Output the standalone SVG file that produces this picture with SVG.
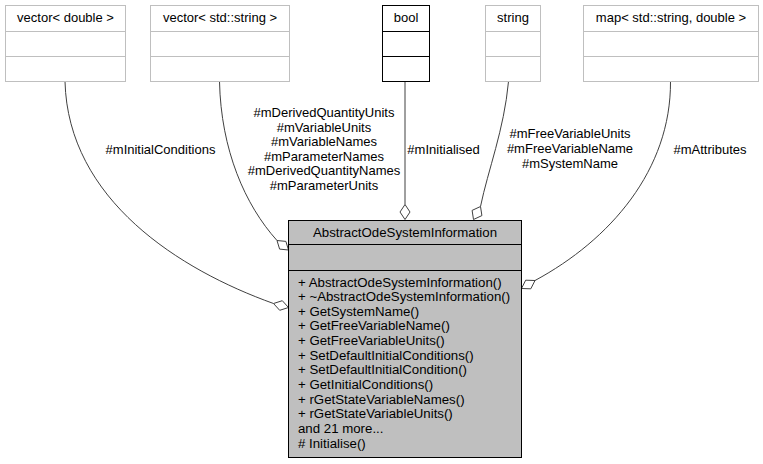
<svg xmlns="http://www.w3.org/2000/svg" width="763" height="464" viewBox="0 0 763 464">
<style>
text{font-family:"Liberation Sans",Arial,Helvetica,sans-serif;font-size:13px;fill:#000}
.c{text-anchor:middle}
.m{font-size:13.25px}
.ext{fill:#fff;stroke:#bfbfbf;stroke-width:1}
.extd{fill:none;stroke:#bfbfbf;stroke-width:1}
.blk{fill:#fff;stroke:#000;stroke-width:1}
.blkd{fill:none;stroke:#000;stroke-width:1}
.main{fill:#bfbfbf;stroke:#000;stroke-width:1}
.edge{fill:none;stroke:#404040;stroke-width:1}
.dia{fill:#fff;stroke:#404040;stroke-width:1}
</style>
<rect width="763" height="464" fill="#fff"/>
<g id="connectors">
<path class="edge" d="M65,81.5 C68,200 180,270 273.5,303.5"/>
<polygon class="dia" points="273.5,303.5 282.3,300.7 288.5,307.5 279.7,310.3"/>
<path class="edge" d="M219.5,81.5 C221,150 245,205 277,240.5"/>
<polygon class="dia" points="277,240.5 285.9,241.4 288.5,250 279.6,249.1"/>
<path class="edge" d="M405,81.5 L405,204.5"/>
<polygon class="dia" points="405,204.5 410,212 405,219.5 400,212"/>
<path class="edge" d="M508.5,81.5 C504,130 488,170 480.5,206.5"/>
<polygon class="dia" points="480.5,206.5 481.9,215.6 473.5,219.5 472.1,210.4"/>
<path class="edge" d="M670.5,81.5 C671,170 610,240 535,280.5"/>
<polygon class="dia" points="535,280.5 530.8,288.8 521.5,288.5 525.7,280.2"/>
<text class="c" x="160.5" y="153.5">#mInitialConditions</text>
<text class="c" x="324" y="117">#mDerivedQuantityUnits</text>
<text class="c" x="324" y="131.5">#mVariableUnits</text>
<text class="c" x="324" y="146">#mVariableNames</text>
<text class="c" x="324" y="160.5">#mParameterNames</text>
<text class="c" x="324" y="175">#mDerivedQuantityNames</text>
<text class="c" x="324" y="189.5">#mParameterUnits</text>
<text class="c" x="443.5" y="153.5">#mInitialised</text>
<text class="c" x="570" y="138">#mFreeVariableUnits</text>
<text class="c" x="570" y="153">#mFreeVariableName</text>
<text class="c" x="570" y="168">#mSystemName</text>
<text class="c" x="710" y="153.5">#mAttributes</text>
</g>
<g id="vector_double">
<rect class="ext" x="5.5" y="5.5" width="120" height="76"/>
<path class="extd" d="M5.5,31.5H125.5M5.5,56.5H125.5"/>
<text class="c" x="65.5" y="22">vector&lt; double &gt;</text>
</g>
<g id="vector_string">
<rect class="ext" x="150.5" y="5.5" width="139" height="76"/>
<path class="extd" d="M150.5,31.5H289.5M150.5,56.5H289.5"/>
<text class="c" x="220" y="22">vector&lt; std::string &gt;</text>
</g>
<g id="bool">
<rect class="blk" x="382.5" y="5.5" width="47" height="76"/>
<path class="blkd" d="M382.5,31.5H429.5M382.5,56.5H429.5"/>
<text class="c" x="406" y="22">bool</text>
</g>
<g id="string">
<rect class="ext" x="485.5" y="5.5" width="55" height="76"/>
<path class="extd" d="M485.5,31.5H540.5M485.5,56.5H540.5"/>
<text class="c" x="513" y="22">string</text>
</g>
<g id="map">
<rect class="ext" x="583.5" y="5.5" width="175" height="76"/>
<path class="extd" d="M583.5,31.5H758.5M583.5,56.5H758.5"/>
<text class="c" x="671" y="22">map&lt; std::string, double &gt;</text>
</g>
<g id="AbstractOdeSystemInformation">
<rect class="main" x="288.5" y="220.5" width="233" height="237"/>
<path class="blkd" d="M288.5,244.5H521.5M288.5,270.5H521.5"/>
<text class="c m" x="405" y="236.5">AbstractOdeSystemInformation</text>
<text class="m" x="298" y="286.5">+ AbstractOdeSystemInformation()</text>
<text class="m" x="298" y="301">+ ~AbstractOdeSystemInformation()</text>
<text class="m" x="298" y="315.7">+ GetSystemName()</text>
<text class="m" x="298" y="330.3">+ GetFreeVariableName()</text>
<text class="m" x="298" y="345">+ GetFreeVariableUnits()</text>
<text class="m" x="298" y="359.7">+ SetDefaultInitialConditions()</text>
<text class="m" x="298" y="374.3">+ SetDefaultInitialCondition()</text>
<text class="m" x="298" y="389">+ GetInitialConditions()</text>
<text class="m" x="298" y="403.7">+ rGetStateVariableNames()</text>
<text class="m" x="298" y="418.3">+ rGetStateVariableUnits()</text>
<text class="m" x="298" y="433">and 21 more...</text>
<text class="m" x="298" y="447.7"># Initialise()</text>
</g>
</svg>
